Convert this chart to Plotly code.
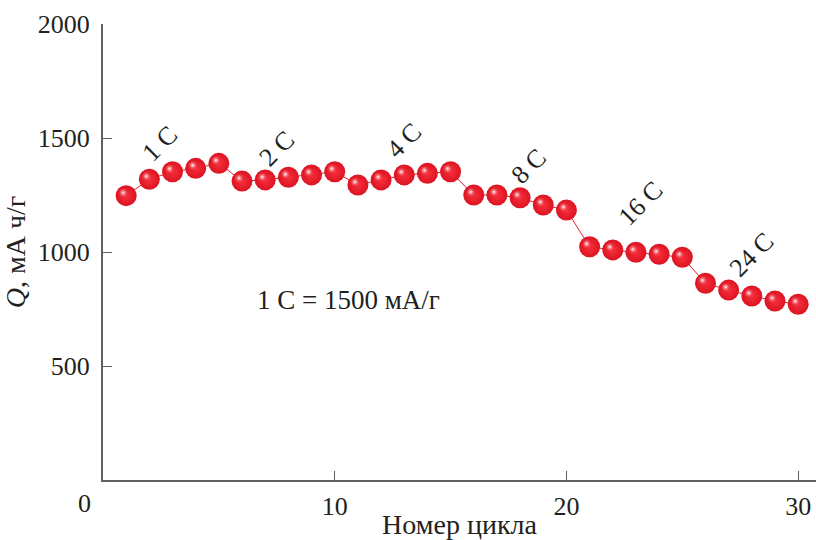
import plotly.graph_objects as go

# Discharge capacity per cycle at stepwise increasing C-rates
cycles = list(range(1, 31))
capacity = [1247, 1319, 1352, 1367, 1389,
            1311, 1316, 1328, 1338, 1352,
            1294, 1316, 1338, 1345, 1352,
            1250, 1250, 1238, 1206, 1184,
            1023, 1009, 999, 990, 977,
            863, 833, 807, 785, 771]

# Rate labels and where they sit above each group of cycles
rate_labels = ["1 C", "2 C", "4 C", "8 C", "16 C", "24 C"]
rate_label_x = [2.45, 7.5, 13.0, 18.35, 23.2, 28.0]
rate_label_y = [1478, 1456, 1487, 1377, 1211, 987]

x_range = [0, 30.77]
y_range = [0, 2000]
x_ticks = [10, 20, 30]
y_ticks = [500, 1000, 1500, 2000]

FONT = "Liberation Serif, Times New Roman, serif"
INK = "#231f20"
AXIS = "#606060"

fig = go.Figure()

# Connecting line + shaded red spheres
fig.add_trace(go.Scatter(
    x=cycles, y=capacity, mode="lines+markers",
    line=dict(color="#ec1c2c", width=1),
    marker=dict(size=21, color="#dc1422",
                gradient=dict(type="radial", color="#f7303e"),
                line=dict(width=0)),
    hoverinfo="skip", showlegend=False,
))

# Specular highlight, drawn on overlay axes nudged up-left by a few pixels
px_x = (x_range[1] - x_range[0]) / 713.0
px_y = (y_range[1] - y_range[0]) / 456.0
fig.add_trace(go.Scatter(
    x=cycles, y=capacity, mode="markers",
    xaxis="x2", yaxis="y2",
    marker=dict(size=10, color="rgba(247,48,62,0)",
                gradient=dict(type="radial", color="#ffffff"),
                line=dict(width=0)),
    hoverinfo="skip", showlegend=False,
))

for txt, lx, ly in zip(rate_labels, rate_label_x, rate_label_y):
    fig.add_annotation(x=lx, y=ly, text=txt, textangle=-45, showarrow=False,
                       font=dict(family=FONT, size=26, color=INK))

fig.add_annotation(x=10.6, y=790, text="1 C = 1500 мА/г", showarrow=False,
                   font=dict(family=FONT, size=27, color=INK))

# Shared origin label
fig.add_annotation(x=0, y=0, text="0", showarrow=False, xshift=-19, yshift=-23,
                   font=dict(family=FONT, size=26, color=INK))

fig.update_layout(
    width=816, height=540,
    margin=dict(l=103, r=0, t=24, b=60),
    paper_bgcolor="white", plot_bgcolor="white",
    font=dict(family=FONT, size=26, color=INK),
    xaxis=dict(range=x_range, tickvals=x_ticks, ticks="inside", ticklen=9,
               tickwidth=1.2, tickcolor=AXIS, showline=True, linecolor=AXIS,
               linewidth=2, showgrid=False, zeroline=False,
               ticklabelstandoff=2,
               title=dict(text="Номер цикла", standoff=0,
                          font=dict(family=FONT, size=28, color=INK))),
    yaxis=dict(range=y_range, tickvals=y_ticks, ticks="inside", ticklen=9,
               tickwidth=1.2, tickcolor=AXIS, showline=True, linecolor=AXIS,
               linewidth=2, showgrid=False, zeroline=False,
               ticklabelstandoff=6,
               title=dict(text="<i>Q</i>, мА ч/г", standoff=14,
                          font=dict(family=FONT, size=28, color=INK))),
    xaxis2=dict(range=[x_range[0] + 3 * px_x, x_range[1] + 3 * px_x],
                overlaying="x", visible=False),
    yaxis2=dict(range=[y_range[0] - 3 * px_y, y_range[1] - 3 * px_y],
                overlaying="y", visible=False),
)

fig.write_html("out.html")
